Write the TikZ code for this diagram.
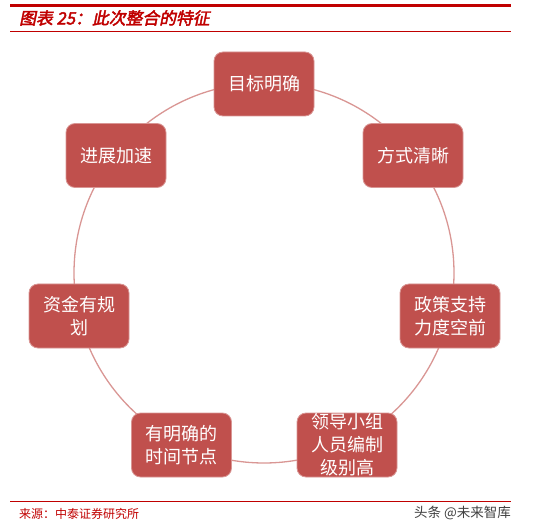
\documentclass[tikz,border=0pt]{standalone}
\usepackage{fontspec}
\newfontfamily\cjk{Noto Sans CJK SC}
\newfontfamily\cjkti[FakeSlant=0.2,FakeBold=2.5]{Noto Sans CJK SC}
\definecolor{boxred}{HTML}{C0504D}
\definecolor{ringred}{HTML}{D99694}
\definecolor{hdrred}{HTML}{C00000}
\definecolor{wmgray}{HTML}{404040}
\tikzset{
  feat/.style={rectangle, rounded corners=9pt, fill=boxred, draw=boxred!60!white, line width=0.8pt,
    minimum width=100pt, minimum height=64pt, inner sep=0pt, align=center, text=white,
    font=\cjk\fontsize{18}{23}\selectfont},
  rule/.style={draw=hdrred}
}
\begin{document}
\begin{tikzpicture}[x=1pt,y=-1pt]
\useasboundingbox (0,0) rectangle (547,532);
% header
\coordinate (t1) at (10,5.5); \coordinate (t2) at (511,5.5);
\draw[rule, line width=3pt] (t1) -- (t2);
\node[anchor=west, inner sep=0pt, text=hdrred, font=\cjkti\fontsize{16.8}{18}\selectfont] (title) at (19,18) {图表 25：此次整合的特征};
\coordinate (t3) at (10,32); \coordinate (t4) at (511,32);
\draw[rule, line width=1pt] (t3) -- (t4);
% ring
\coordinate (c) at (264,273);
\draw[ringred, line width=1.3pt] (c) circle[radius=190];
% boxes
\node[feat] (n1) at (264,84) {目标明确};
\node[feat] (n2) at (413,155.5) {方式清晰};
\node[feat] (n3) at (450,316) {政策支持\\力度空前};
\node[feat] (n4) at (347,445) {领导小组\\人员编制\\级别高};
\node[feat] (n5) at (181.5,445) {有明确的\\时间节点};
\node[feat] (n6) at (79,316) {资金有规\\划};
\node[feat] (n7) at (116,155.5) {进展加速};
% footer
\coordinate (b1) at (10,501); \coordinate (b2) at (511,501);
\draw[rule, line width=0.8pt] (b1) -- (b2);
\node[anchor=west, inner sep=0pt, text=hdrred, font=\cjk\fontsize{12}{14}\selectfont] (src) at (19,514) {来源：中泰证券研究所};
\node[anchor=east, inner sep=0pt, text=wmgray, font=\cjk\fontsize{13.5}{16}\selectfont] (wm) at (511,513) {头条 @未来智库};
\end{tikzpicture}
\end{document}
